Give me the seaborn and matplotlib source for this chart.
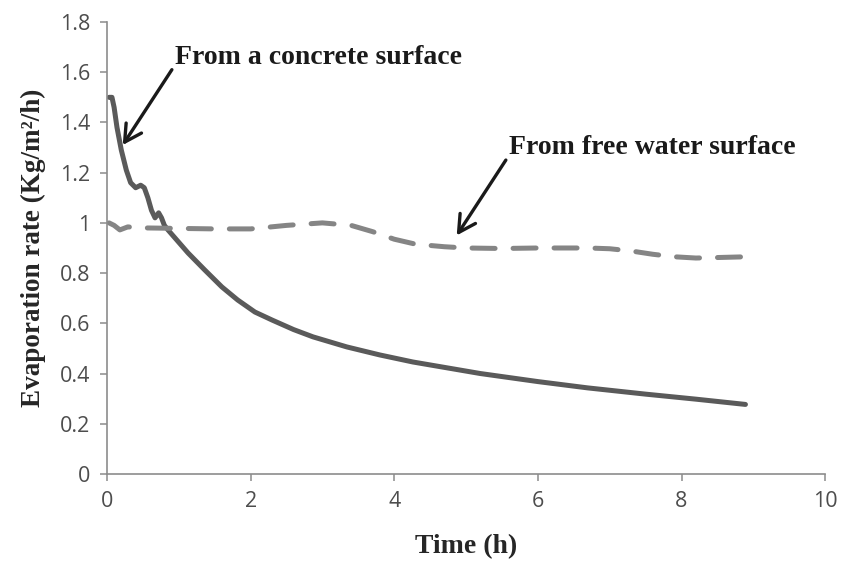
import matplotlib
matplotlib.use("Agg")
import matplotlib.pyplot as plt
import seaborn as sns
import numpy as np
import pandas as pd
from matplotlib.ticker import FuncFormatter

# Data
concrete_time = [0.03, 0.07, 0.10, 0.14, 0.20, 0.27, 0.33, 0.40, 0.47, 0.52, 0.57, 0.62, 0.67,
                 0.72, 0.76, 0.80, 0.85, 1.13, 1.36, 1.60, 1.82, 2.06, 2.30, 2.60, 2.87, 3.34,
                 3.80, 4.26, 5.20, 6.00, 6.69, 7.50, 8.20, 8.89]
concrete_rate = [1.50, 1.50, 1.46, 1.38, 1.29, 1.21, 1.16, 1.14, 1.15, 1.14, 1.10, 1.05, 1.02,
                 1.04, 1.02, 0.99, 0.972, 0.88, 0.813, 0.745, 0.693, 0.645, 0.613, 0.575, 0.546, 0.506,
                 0.474, 0.446, 0.40, 0.368, 0.343, 0.318, 0.298, 0.277]

water_time = [0.03, 0.10, 0.18, 0.29, 0.5, 1.0, 1.5, 2.0, 2.5, 3.0, 3.4, 3.7, 4.0, 4.3, 4.7, 5.0,
              5.5, 6.0, 6.7, 7.0, 7.3, 7.6, 7.9, 8.2, 8.5, 8.9]
water_rate = [1.00, 0.99, 0.972, 0.984, 0.98, 0.978, 0.976, 0.976, 0.99, 1.00, 0.99, 0.965, 0.935, 0.915, 0.905, 0.90,
              0.898, 0.90, 0.90, 0.897, 0.888, 0.875, 0.865, 0.86, 0.862, 0.865]

x_ticks = [0, 2, 4, 6, 8, 10]
y_ticks = [0, 0.2, 0.4, 0.6, 0.8, 1.0, 1.2, 1.4, 1.6, 1.8]

df_c = pd.DataFrame({"t": concrete_time, "r": concrete_rate})
df_w = pd.DataFrame({"t": water_time, "r": water_rate})

sns.set_style("white")
fig = plt.figure(figsize=(8.42, 5.64), dpi=100)
ax = fig.add_axes([0.127, 0.1596, 0.853, 0.8014])

sns.lineplot(data=df_c, x="t", y="r", ax=ax, color="#5a5a5a", linewidth=3.6, sort=False)
sns.lineplot(data=df_w, x="t", y="r", ax=ax, color="#858585", linewidth=3.6, sort=False)
ax.lines[-1].set_dashes((4.6, 3.6))
ax.lines[-1].set_dash_capstyle("round")
ax.lines[0].set_solid_capstyle("round")
ax.lines[0].set_solid_joinstyle("round")

ax.set_xlim(0, 10)
ax.set_ylim(0, 1.8)
ax.set_xticks(x_ticks)
ax.set_yticks(y_ticks)
ax.yaxis.set_major_formatter(FuncFormatter(lambda v, p: f"{v:g}"))

for s in ["top", "right"]:
    ax.spines[s].set_visible(False)
for s in ["left", "bottom"]:
    ax.spines[s].set_color("#8c8c8c")
    ax.spines[s].set_linewidth(1.2)

ax.tick_params(axis="both", which="major", direction="out", length=5, width=1.1,
               color="#8c8c8c", labelcolor="#4d4d4d", labelsize=15.5, pad=7,
               left=True, bottom=True)
for lab in ax.get_xticklabels() + ax.get_yticklabels():
    lab.set_fontfamily("Open Sans")

serif = ["Liberation Serif", "DejaVu Serif"]
ax.set_xlabel("Time (h)", fontsize=20, fontweight="bold", fontfamily=serif, labelpad=16)
ax.set_ylabel("Evaporation rate (Kg/m²/h)", fontsize=19.5, fontweight="bold",
              fontfamily=serif, labelpad=10)

arrow = dict(arrowstyle="->,head_length=0.55,head_width=0.3", color="#1a1a1a", lw=2.4,
             mutation_scale=22, shrinkA=0, shrinkB=0, relpos=(0.0, 0.2))
ax.annotate("From a concrete surface", xy=(0.22, 1.31), xytext=(0.95, 1.66),
            fontsize=20, fontweight="bold", fontfamily=serif, color="#1a1a1a",
            va="center", ha="left", arrowprops=arrow)
ax.annotate("From free water surface", xy=(4.87, 0.95), xytext=(5.6, 1.3),
            fontsize=20, fontweight="bold", fontfamily=serif, color="#1a1a1a",
            va="center", ha="left", arrowprops=arrow)

fig.savefig("out.png", dpi=100)
